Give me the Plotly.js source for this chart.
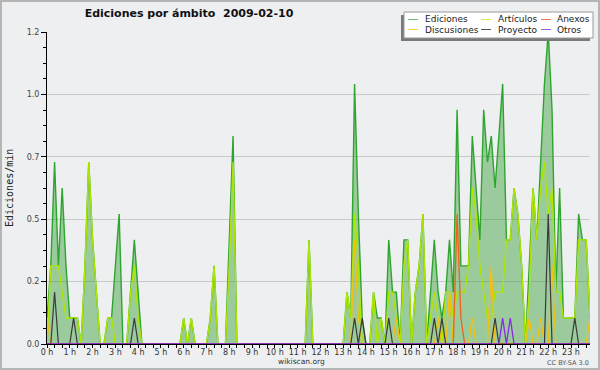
<!DOCTYPE html>
<html>
<head>
<meta charset="utf-8">
<script src="https://cdn.plot.ly/plotly-3.0.1.min.js"></script>
<style>
html,body{margin:0;padding:0;background:#eeeff1;}
#chart{width:600px;height:370px;}
#frame{position:absolute;left:0;top:0;width:600px;height:370px;box-sizing:border-box;border:2px solid #b5b5b5;pointer-events:none;}
</style>
</head>
<body>
<div id="chart"></div>
<div id="frame"></div>
<script>
// ---- data: one value per 10-minute bin, 2009-02-10 00:00 .. 23:50 (edits/min) ----
const binMinutes = 10;

const ediciones = [
  0.104,0.313,0.729,0.313,0.625,0.313,0.104,0.104,0.104,0,0.313,0.729,
  0.417,0.208,0,0,0.104,0.104,0.313,0.521,0,0,0.208,0.417,
  0.208,0,0,0,0,0,0,0,0,0,0,0,
  0.104,0,0.104,0,0,0,0,0.104,0.313,0,0,0,
  0.417,0.833,0,0,0,0,0,0,0,0,0,0,
  0,0,0,0,0,0,0,0,0,0.417,0,0,
  0,0,0,0,0,0,0,0.208,0.104,1.042,0.521,0.104,
  0,0,0.208,0.104,0.104,0,0.417,0.208,0.208,0,0.417,0.417,
  0,0.208,0.313,0.521,0,0.208,0.417,0.208,0.104,0.208,0.417,0.208,
  0.938,0.313,0.313,0.313,0.833,0.625,0.417,0.938,0.729,0.833,0.625,0.833,
  1.042,0.417,0.417,0.625,0.521,0.313,0,0.313,0.625,0.417,0.729,1.042,
  1.25,0.938,0.208,0.625,0.104,0.104,0.104,0.104,0.521,0.417,0.417,0.104
];
const articulos = [
  0,0.313,0.313,0.313,0.208,0.104,0.104,0.104,0.104,0,0.313,0.729,
  0.417,0.208,0,0,0.104,0.104,0,0,0,0,0.208,0.313,
  0.104,0,0,0,0,0,0,0,0,0,0,0,
  0.104,0,0.104,0,0,0,0,0.104,0.313,0,0,0,
  0.313,0.729,0,0,0,0,0,0,0,0,0,0,
  0,0,0,0,0,0,0,0,0,0.417,0,0,
  0,0,0,0,0,0,0,0.208,0.104,0.521,0.313,0,
  0,0,0.208,0,0.104,0,0.208,0.208,0.104,0,0.313,0.417,
  0,0.208,0.313,0.521,0,0.104,0.208,0.104,0,0.208,0.208,0.104,
  0.208,0.208,0.208,0.313,0.625,0.521,0.313,0.208,0.104,0.104,0.208,0.208,
  0.208,0.417,0.417,0.625,0.521,0.313,0,0.208,0.625,0.417,0.625,0.729,
  0.521,0.625,0.208,0.208,0.104,0.104,0.104,0.104,0.417,0.417,0.417,0.104
];
const discusiones = [
  0.104,0,0,0,0,0,0,0,0,0,0,0,
  0,0,0,0,0,0,0,0,0,0,0,0,
  0,0,0,0,0,0,0,0,0,0,0,0,
  0,0,0,0,0,0,0,0,0,0,0,0,
  0,0,0,0,0,0,0,0,0,0,0,0,
  0,0,0,0,0,0,0,0,0,0,0,0,
  0,0,0,0,0,0,0,0,0,0.417,0.104,0,
  0,0,0,0,0,0,0,0,0.104,0,0,0,
  0,0,0,0,0,0,0,0.104,0,0,0.208,0,
  0,0,0,0,0.104,0,0,0,0,0.313,0,0,
  0,0,0,0,0,0,0,0.104,0,0,0.104,0,
  0,0.313,0,0,0,0,0,0,0,0,0,0.104
];
const proyecto = [
  0,0,0.208,0,0,0,0,0.104,0,0,0,0,
  0,0,0,0,0,0,0,0,0,0,0,0.104,
  0,0,0,0,0,0,0,0,0,0,0,0,
  0,0,0,0,0,0,0,0,0,0,0,0,
  0,0,0,0,0,0,0,0,0,0,0,0,
  0,0,0,0,0,0,0,0,0,0,0,0,
  0,0,0,0,0,0,0,0,0,0.104,0,0.104,
  0,0,0,0,0,0,0.104,0,0,0,0,0,
  0,0,0,0,0,0,0.104,0,0.104,0,0,0,
  0,0,0,0,0,0,0,0,0,0,0.104,0,
  0,0,0,0,0,0,0,0,0,0,0,0,
  0.521,0,0,0,0,0,0,0.104,0,0,0,0
];
const anexos = [
  0,0,0,0,0,0,0,0,0,0,0,0,
  0,0,0,0,0,0,0,0,0,0,0,0,
  0,0,0,0,0,0,0,0,0,0,0,0,
  0,0,0,0,0,0,0,0,0,0,0,0,
  0,0,0,0,0,0,0,0,0,0,0,0,
  0,0,0,0,0,0,0,0,0,0,0,0,
  0,0,0,0,0,0,0,0,0,0,0,0,
  0,0,0,0,0,0,0,0,0,0,0,0,
  0,0,0,0,0,0,0,0,0,0,0,0,
  0.521,0.104,0,0,0,0,0,0,0,0,0,0,
  0,0,0,0,0,0,0,0,0,0,0,0,
  0,0,0,0,0,0,0,0,0,0,0,0
];
const otros = [
  0,0,0,0,0,0,0,0,0,0,0,0,
  0,0,0,0,0,0,0,0,0,0,0,0,
  0,0,0,0,0,0,0,0,0,0,0,0,
  0,0,0,0,0,0,0,0,0,0,0,0,
  0,0,0,0,0,0,0,0,0,0,0,0,
  0,0,0,0,0,0,0,0,0,0,0,0,
  0,0,0,0,0,0,0,0,0,0,0,0,
  0,0,0,0,0,0,0,0,0,0,0,0,
  0,0,0,0,0,0,0,0,0,0,0,0,
  0,0,0,0,0,0,0,0,0,0,0,0,
  0.104,0,0.104,0,0,0,0,0,0,0,0,0,
  0,0,0,0,0,0,0,0,0,0,0,0
];

const hourTicks  = [0,1,2,3,4,5,6,7,8,9,10,11,12,13,14,15,16,17,18,19,20,21,22,23];
const hourLabels = ['0 h','1 h','2 h','3 h','4 h','5 h','6 h','7 h','8 h','9 h','10 h','11 h',
                    '12 h','13 h','14 h','15 h','16 h','17 h','18 h','19 h','20 h','21 h','22 h','23 h'];
const yTicks  = [0, 0.25, 0.5, 0.75, 1.0, 1.25];
const yLabels = ['0.0','0.2','0.5','0.7','1.0','1.2'];

const seriesNames  = ['Ediciones','Artículos','Discusiones','Anexos','Proyecto','Otros'];
const seriesValues = [ediciones, articulos, discusiones, anexos, proyecto, otros];
const seriesColors = ['#2ea52e','#aee600','#f5c010','#f0601e','#3a3a3a','#8a2be2'];
const seriesWidths = [1.4, 1.4, 1.3, 1.3, 1.2, 1.3];

// legend layout order (3 columns x 2 rows)
const legendOrder = ['Ediciones','Artículos','Anexos','Discusiones','Proyecto','Otros'];
const legendColors = {'Ediciones':'#6cc46c','Artículos':'#c6ef4a','Anexos':'#f07a50',
                      'Discusiones':'#f7d04a','Proyecto':'#555555','Otros':'#9a5af0'};

// ---- geometry ----
const L = 47, R = 590, T = 32, B = 344;
const W = R - L, H = B - T;
const px = v => (v - L) / W;
const py = v => (B - v) / H;

const xHours = ediciones.map((_, i) => i * binMinutes / 60);

const traces = seriesValues.map((vals, k) => {
  const t = {
    x: xHours, y: vals, type: 'scatter', mode: 'lines', name: seriesNames[k],
    line: {color: seriesColors[k], width: seriesWidths[k], shape: 'linear'},
    hoverinfo: 'skip', showlegend: false
  };
  if (k === 0) { t.fill = 'tozeroy'; t.fillcolor = 'rgba(40,150,40,0.42)'; }
  return t;
});

// manual legend
const shapes = [];
const annotations = [];
shapes.push({type:'rect', xref:'paper', yref:'paper', x0:px(401), x1:px(590), y0:py(41), y1:py(15),
             fillcolor:'#7a7a7a', line:{width:0}, layer:'above'});
shapes.push({type:'rect', xref:'paper', yref:'paper', x0:px(404), x1:px(593), y0:py(38), y1:py(12),
             fillcolor:'#ffffff', line:{color:'#9a9a9a', width:1}, layer:'above'});
const colLine = [408, 481, 541];
const colText = [423, 496, 555];
const rowY = [19.5, 29.5];
legendOrder.forEach((name, i) => {
  const c = i % 3, r = Math.floor(i / 3);
  shapes.push({type:'line', xref:'paper', yref:'paper', x0:px(colLine[c]), x1:px(colLine[c]+10),
               y0:py(rowY[r]), y1:py(rowY[r]), line:{color:legendColors[name], width:1}, layer:'above'});
  annotations.push({xref:'paper', yref:'paper', x:px(colText[c]), y:py(rowY[r]), text:name,
                    showarrow:false, xanchor:'left', yanchor:'middle',
                    font:{family:'DejaVu Sans', size:9, color:'#222'}});
});

annotations.push({xref:'paper', yref:'paper', x:px(9), y:0.5, text:'Ediciones/min', textangle:-90,
                  showarrow:false, xanchor:'center', yanchor:'middle',
                  font:{family:'DejaVu Sans Mono', size:10, color:'#222'}});
annotations.push({xref:'paper', yref:'paper', x:px(301), y:py(361), text:'wikiscan.org',
                  showarrow:false, xanchor:'center', yanchor:'middle',
                  font:{family:'DejaVu Sans', size:7.5, color:'#333'}});
annotations.push({xref:'paper', yref:'paper', x:px(591), y:py(363), text:'CC BY-SA 3.0',
                  showarrow:false, xanchor:'right', yanchor:'middle',
                  font:{family:'DejaVu Sans', size:6.5, color:'#555'}});

const layout = {
  width: 600, height: 370,
  margin: {l: L, r: 600 - R, t: T, b: 370 - B, pad: 0},
  paper_bgcolor: '#eeeff1', plot_bgcolor: '#eeeff1',
  showlegend: false,
  title: {
    text: 'Ediciones por ámbito\u00a0\u00a02009-02-10',
    font: {family: 'DejaVu Sans', size: 11, weight: 'bold', color: '#111'},
    xref: 'container', x: 189 / 600, xanchor: 'center',
    yref: 'container', y: 1 - 13.5 / 370, yanchor: 'middle'
  },
  xaxis: {
    range: [0, (ediciones.length - 1) * binMinutes / 60],
    tickmode: 'array', tickvals: hourTicks, ticktext: hourLabels,
    ticks: 'outside', ticklen: 3, tickwidth: 1, tickcolor: '#000',
    ticklabelstandoff: -3,
    minor: {tickmode: 'linear', tick0: 0, dtick: 1 / 3, ticks: 'outside', ticklen: 3, tickwidth: 1, tickcolor: '#000', showgrid: false},
    showline: true, linecolor: '#000', linewidth: 1,
    showgrid: false, zeroline: false, layer: 'above traces',
    tickfont: {family: 'DejaVu Sans', size: 8, color: '#333'},
    fixedrange: true
  },
  yaxis: {
    range: [0, 1.25],
    tickmode: 'array', tickvals: yTicks, ticktext: yLabels,
    ticks: 'outside', ticklen: 5, tickwidth: 1, tickcolor: '#000',
    minor: {tickmode: 'linear', tick0: 0, dtick: 0.0625, ticks: 'outside', ticklen: 3, tickwidth: 1, tickcolor: '#000', showgrid: false},
    showline: true, linecolor: '#000', linewidth: 1,
    showgrid: true, gridcolor: '#c9c9c9', gridwidth: 1,
    zeroline: false, layer: 'above traces',
    tickfont: {family: 'DejaVu Sans', size: 8, color: '#444'},
    fixedrange: true
  },
  shapes: shapes,
  annotations: annotations
};

Plotly.newPlot('chart', traces, layout, {staticPlot: true, displayModeBar: false});
</script>
</body>
</html>
